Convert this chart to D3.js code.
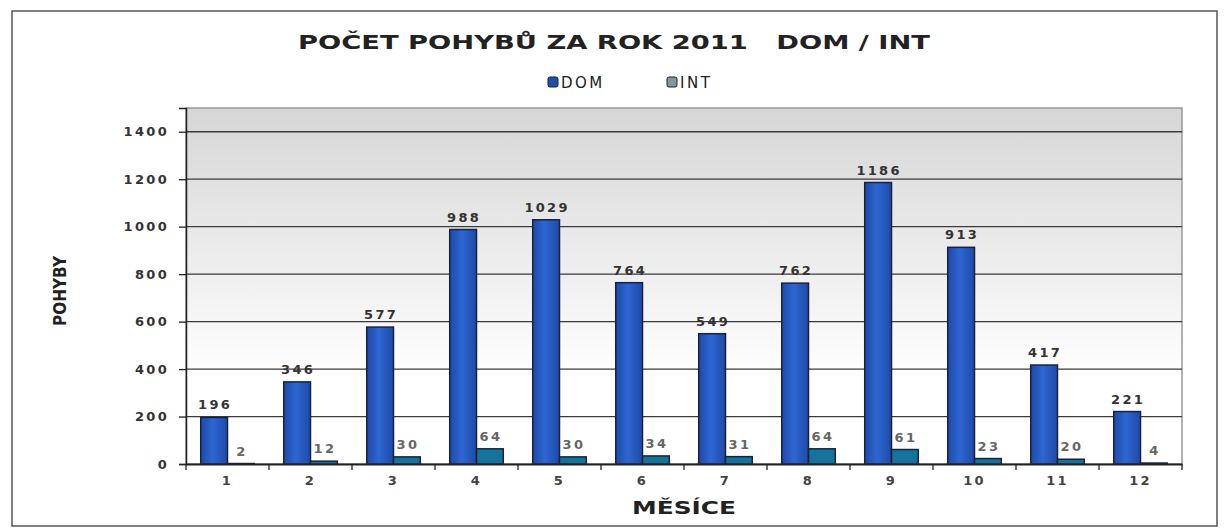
<!DOCTYPE html>
<html>
<head>
<meta charset="utf-8">
<script src="https://cdn.jsdelivr.net/npm/d3@7"></script>
<style>
  body { margin: 0; background: #fff; }
  text { font-family: "DejaVu Sans", Verdana, sans-serif; }
</style>
</head>
<body>
<div id="chart"></div>
<script>
// data
const months = ["1", "2", "3", "4", "5", "6", "7", "8", "9", "10", "11", "12"];
const seriesNames = ["DOM", "INT"];
const domValues = [196, 346, 577, 988, 1029, 764, 549, 762, 1186, 913, 417, 221];
const intValues = [2, 12, 30, 64, 30, 34, 31, 64, 61, 23, 20, 4];
const yTicks = [0, 200, 400, 600, 800, 1000, 1200, 1400];

const width = 1229, height = 529;
const margin = { top: 108, right: 47, bottom: 65, left: 186 };
const plotW = width - margin.left - margin.right;
const plotH = height - margin.top - margin.bottom;

const colors = { DOM: "#2458bd", INT: "#15729c" };

const svg = d3.select("#chart")
    .append("svg")
    .attr("width", width)
    .attr("height", height);

// outer frame
svg.append("rect")
    .attr("x", 12).attr("y", 11)
    .attr("width", 1205).attr("height", 515)
    .attr("fill", "none")
    .attr("stroke", "#555")
    .attr("stroke-width", 1.5);

const defs = svg.append("defs");
const bg = defs.append("linearGradient")
    .attr("id", "bg").attr("x1", 0).attr("x2", 0).attr("y1", 0).attr("y2", 1);
bg.append("stop").attr("offset", "0%").attr("stop-color", "#d6d6d6");
bg.append("stop").attr("offset", "45%").attr("stop-color", "#eeeeee");
bg.append("stop").attr("offset", "75%").attr("stop-color", "#ffffff");

const domGrad = defs.append("linearGradient")
    .attr("id", "domGrad").attr("x1", 0).attr("x2", 1).attr("y1", 0).attr("y2", 0);
domGrad.append("stop").attr("offset", "0%").attr("stop-color", "#1d4aa8");
domGrad.append("stop").attr("offset", "45%").attr("stop-color", "#2e66d2");
domGrad.append("stop").attr("offset", "100%").attr("stop-color", "#1d4aa8");

const g = svg.append("g")
    .attr("transform", "translate(" + margin.left + "," + margin.top + ")");

// plot area
g.append("rect")
    .attr("width", plotW).attr("height", plotH)
    .attr("fill", "url(#bg)")
    .attr("stroke", "#999")
    .attr("stroke-width", 1.5);

const x0 = d3.scaleBand()
    .domain(months)
    .range([0, plotW]);

const x1 = d3.scaleBand()
    .domain(seriesNames)
    .range([0, x0.bandwidth()])
    .paddingOuter(0.55)
    .paddingInner(0);

const y = d3.scaleLinear()
    .domain([0, 1500])
    .range([plotH, 0]);

// gridlines
g.append("g")
    .selectAll("line")
    .data(yTicks.filter(d => d > 0))
    .enter()
    .append("line")
    .attr("x1", 0).attr("x2", plotW)
    .attr("y1", d => y(d)).attr("y2", d => y(d))
    .attr("stroke", "#3a3a3a")
    .attr("stroke-width", 1.3);

// y axis
const yAxis = g.append("g")
    .call(d3.axisLeft(y).tickValues(yTicks).tickFormat(d3.format("d")).tickSize(7).tickPadding(10));
yAxis.select(".domain").attr("stroke", "#222").attr("stroke-width", 1.5);
yAxis.selectAll(".tick line").attr("stroke", "#222").attr("stroke-width", 1.3);
yAxis.selectAll("text")
    .attr("font-size", 13)
    .attr("font-weight", "bold")
    .attr("letter-spacing", 2.3)
    .attr("fill", "#333");

// x axis
const xAxis = g.append("g")
    .attr("transform", "translate(0," + plotH + ")")
    .call(d3.axisBottom(x0).tickSize(0).tickPadding(12));
xAxis.select(".domain").attr("stroke", "#222").attr("stroke-width", 1.8);
xAxis.selectAll("text")
    .attr("font-size", 13)
    .attr("font-weight", "bold")
    .attr("letter-spacing", 2.3)
    .attr("fill", "#444");

// category boundary ticks
g.append("g")
    .selectAll("line")
    .data(months.concat(["end"]))
    .enter()
    .append("line")
    .attr("x1", (d, i) => i * x0.step())
    .attr("x2", (d, i) => i * x0.step())
    .attr("y1", plotH).attr("y2", plotH + 6)
    .attr("stroke", "#222")
    .attr("stroke-width", 1.3);

const rows = months.map((m, i) => ({ month: m, DOM: domValues[i], INT: intValues[i] }));

const groups = g.append("g")
    .selectAll("g")
    .data(rows)
    .enter()
    .append("g")
    .attr("transform", d => "translate(" + x0(d.month) + ",0)");

groups.selectAll("rect")
    .data(d => seriesNames.map(key => ({ key, value: d[key] })))
    .enter()
    .append("rect")
    .attr("x", d => x1(d.key))
    .attr("y", d => y(d.value))
    .attr("width", x1.bandwidth())
    .attr("height", d => y(0) - y(d.value))
    .attr("fill", d => d.key === "DOM" ? "url(#domGrad)" : colors.INT)
    .attr("stroke", "#1c2233")
    .attr("stroke-width", 1.5);

groups.selectAll("text")
    .data(d => seriesNames.map(key => ({ key, value: d[key] })))
    .enter()
    .append("text")
    .attr("x", d => x1(d.key) + x1.bandwidth() / 2 + 1)
    .attr("y", d => y(d.value) - 8)
    .attr("text-anchor", "middle")
    .attr("font-size", 13)
    .attr("font-weight", "bold")
    .attr("letter-spacing", 2.3)
    .attr("fill", d => d.key === "DOM" ? "#333" : "#666")
    .text(d => d.value);

// title
svg.append("text")
    .attr("x", 614).attr("y", 49)
    .attr("text-anchor", "middle")
    .attr("font-size", 19)
    .attr("font-weight", "bold")
    .attr("fill", "#222")
    .attr("textLength", 632)
    .attr("lengthAdjust", "spacingAndGlyphs")
    .style("white-space", "pre")
    .text("POČET POHYBŮ ZA ROK 2011   DOM / INT");

// legend
const legendX = [548, 667];
const legend = svg.append("g")
    .selectAll("g")
    .data(seriesNames)
    .enter()
    .append("g")
    .attr("transform", (d, i) => "translate(" + legendX[i] + ",77)");
legend.append("rect")
    .attr("width", 10).attr("height", 10)
    .attr("rx", 2)
    .attr("fill", d => d === "DOM" ? "#1f4fae" : "#7e98a6")
    .attr("stroke", "#222")
    .attr("stroke-width", 1);
legend.append("text")
    .attr("x", 13).attr("y", 10.5)
    .attr("font-size", 15)
    .attr("letter-spacing", 2.5)
    .attr("fill", "#222")
    .text(d => d);

// axis titles
svg.append("text")
    .attr("transform", "translate(66,291) rotate(-90)")
    .attr("text-anchor", "middle")
    .attr("font-size", 17)
    .attr("font-weight", "bold")
    .attr("fill", "#222")
    .attr("textLength", 70)
    .attr("lengthAdjust", "spacingAndGlyphs")
    .text("POHYBY");

svg.append("text")
    .attr("x", margin.left + plotW / 2).attr("y", 514)
    .attr("text-anchor", "middle")
    .attr("font-size", 17)
    .attr("font-weight", "bold")
    .attr("fill", "#222")
    .attr("textLength", 104)
    .attr("lengthAdjust", "spacingAndGlyphs")
    .text("MĚSÍCE");
</script>
</body>
</html>
